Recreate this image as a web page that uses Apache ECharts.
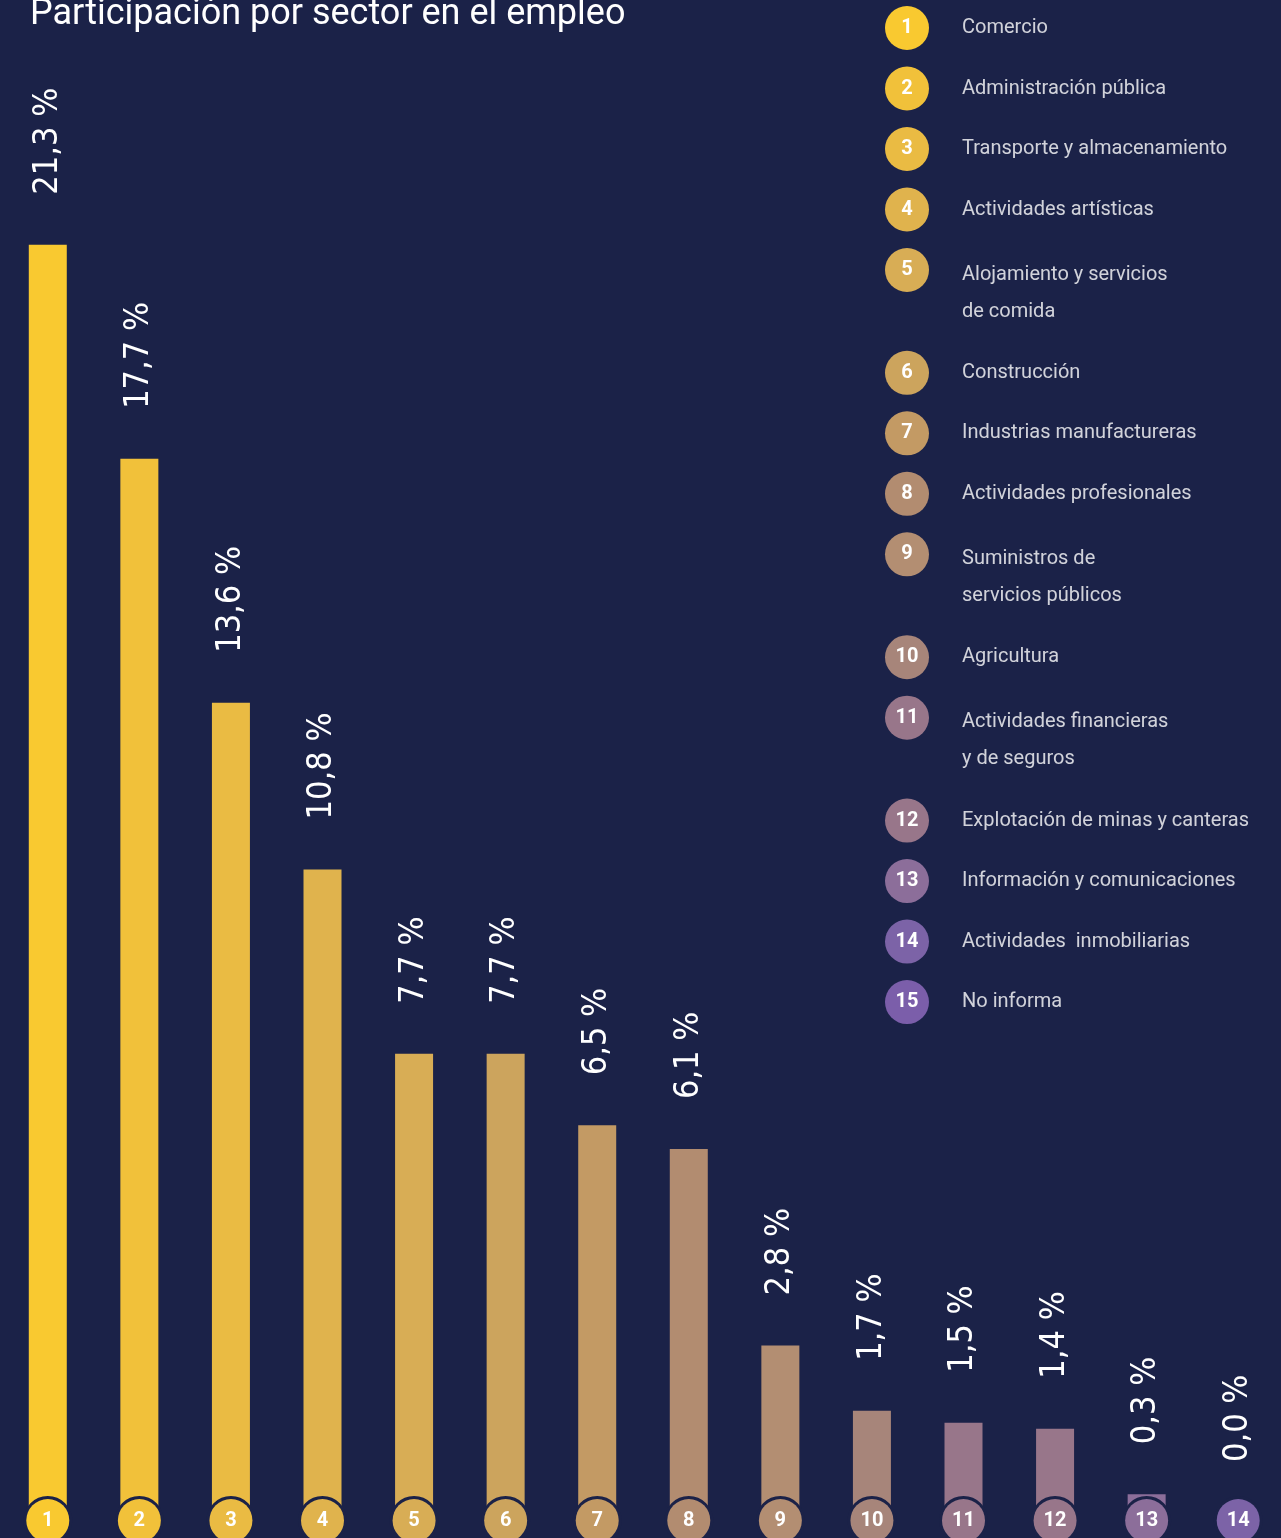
<!DOCTYPE html>
<html>
<head>
<meta charset="utf-8">
<script src="https://cdn.jsdelivr.net/npm/echarts@6/dist/echarts.min.js"></script>
<style>
  html, body { margin: 0; padding: 0; background: #1b2248; }
  #chart { width: 1281px; height: 1538px; }
</style>
</head>
<body>
<div id="chart"></div>
<script>
// bar data (sector number -> share of employment, %)
const categories = ['1', '2', '3', '4', '5', '6', '7', '8', '9', '10', '11', '12', '13', '14'];
const values = [21.3, 17.7, 13.6, 10.8, 7.7, 7.7, 6.5, 6.1, 2.8, 1.7, 1.5, 1.4, 0.3, 0.0];

// legend entries (15, the last one has no bar)
const sectorNumbers = ['1', '2', '3', '4', '5', '6', '7', '8', '9', '10', '11', '12', '13', '14', '15'];
const sectorNames = [
  'Comercio',
  'Administración pública',
  'Transporte y almacenamiento',
  'Actividades artísticas',
  'Alojamiento y servicios\nde comida',
  'Construcción',
  'Industrias manufactureras',
  'Actividades profesionales',
  'Suministros de\nservicios públicos',
  'Agricultura',
  'Actividades financieras\ny de seguros',
  'Explotación de minas y canteras',
  'Información y comunicaciones',
  'Actividades  inmobiliarias',
  'No informa'
];
const sectorColors = [
  '#f9c930', '#f1c13a', '#eabb43', '#e0b34d', '#d8ad55', '#cca45d', '#c39a64',
  '#b28c70', '#b38e72', '#a7857a', '#98768a', '#98768a', '#8c6e9a', '#7c63a7', '#7b5eaa'
];

const BG = '#1b2248';
const fmtPct = (v) => v.toFixed(1).replace('.', ',') + ' %';

// legend rows: a two-line name pushes the next row down a bit
const legendSlots = [];
sectorNames.reduce((acc, name, i) => {
  legendSlots.push([0, acc]);
  return acc + 1 + 0.7 * (name.split('\n').length - 1);
}, 0);

// rich styles for the numbered circles under the bars
const circleRich = {};
categories.forEach((c, i) => {
  circleRich['c' + i] = {
    width: 43,
    height: 43,
    lineHeight: 43,
    borderRadius: 22,
    backgroundColor: sectorColors[i],
    borderColor: BG,
    borderWidth: 3,
    align: 'center',
    color: '#fff',
    fontSize: 20,
    fontWeight: 'bold',
    fontFamily: 'Roboto, sans-serif'
  };
});

const chart = echarts.init(document.getElementById('chart'));

const option = {
  backgroundColor: BG,
  animation: false,
  title: {
    text: 'Participación por sector en el empleo',
    left: 25,
    top: -8,
    textStyle: {
      color: '#fff',
      fontSize: 36,
      fontWeight: 'normal',
      fontFamily: 'Roboto, sans-serif'
    }
  },
  grid: [
    { left: 2, width: 1282, top: 24.5, bottom: 26, outerBoundsMode: 'none' },
    { left: 907, top: 28, width: 100, height: 1210, outerBoundsMode: 'none' }
  ],
  xAxis: [
    {
      type: 'category',
      gridIndex: 0,
      data: categories,
      z: 10,
      axisLine: { show: false },
      axisTick: { show: false },
      axisLabel: {
        interval: 0,
        margin: -13,
        formatter: (value, index) => `{c${index}|${value}}`,
        rich: circleRich
      }
    },
    { type: 'value', gridIndex: 1, min: 0, max: 1, show: false }
  ],
  yAxis: [
    { type: 'value', gridIndex: 0, min: 0, max: 25, show: false },
    { type: 'value', gridIndex: 1, min: 0, max: 20, inverse: true, show: false }
  ],
  series: [
    {
      type: 'bar',
      xAxisIndex: 0,
      yAxisIndex: 0,
      data: values,
      barWidth: 38,
      itemStyle: { color: (p) => sectorColors[p.dataIndex] },
      label: {
        show: true,
        position: 'top',
        rotate: 90,
        align: 'left',
        verticalAlign: 'middle',
        distance: 50,
        color: '#fff',
        fontSize: 34,
        fontFamily: "'Liberation Sans Narrow', 'DejaVu Sans Condensed', Roboto, sans-serif",
        formatter: (p) => fmtPct(p.value)
      }
    },
    {
      // numbered circles of the legend
      type: 'scatter',
      xAxisIndex: 1,
      yAxisIndex: 1,
      data: legendSlots,
      symbol: 'circle',
      symbolSize: 44,
      itemStyle: { color: (p) => sectorColors[p.dataIndex], opacity: 1 },
      label: {
        show: true,
        position: 'inside',
        color: '#fff',
        fontSize: 20,
        fontWeight: 'bold',
        fontFamily: 'Roboto, sans-serif',
        formatter: (p) => sectorNumbers[p.dataIndex]
      }
    },
    {
      // legend names
      type: 'scatter',
      xAxisIndex: 1,
      yAxisIndex: 1,
      data: legendSlots.map((s, i) => ({
        value: s,
        label: { offset: [0, (sectorNames[i].split('\n').length - 1) * 23] }
      })),
      symbolSize: 0,
      label: {
        show: true,
        position: 'right',
        distance: 55,
        color: '#fff',
        fontSize: 20,
        lineHeight: 37,
        fontFamily: 'Roboto, sans-serif',
        formatter: (p) => sectorNames[p.dataIndex]
      }
    }
  ]
};

chart.setOption(option);
</script>
</body>
</html>
